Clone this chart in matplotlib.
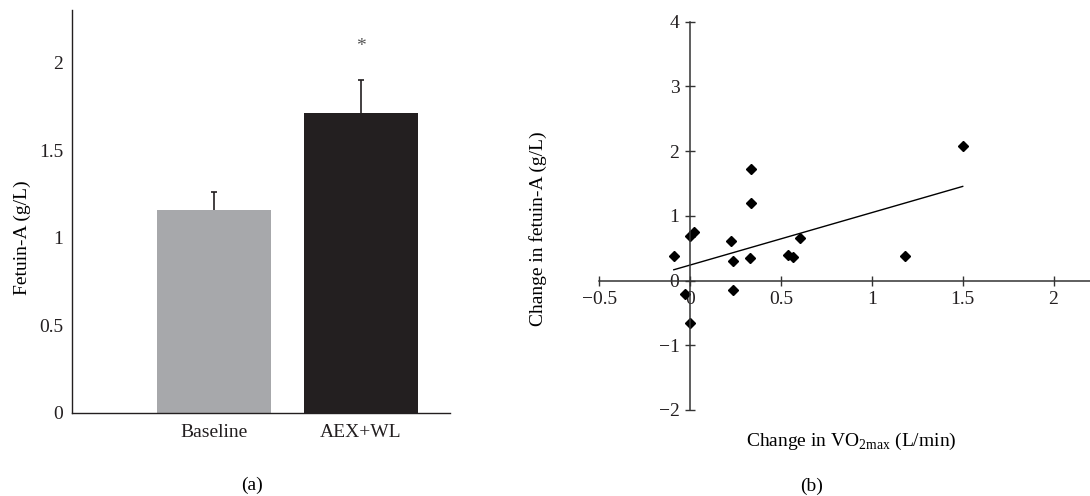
import numpy as np
import matplotlib.pyplot as plt

plt.rcParams["font.family"] = ["Liberation Serif", "DejaVu Serif"]
plt.rcParams["mathtext.fontset"] = "custom"
plt.rcParams["mathtext.rm"] = "Liberation Serif"
plt.rcParams["font.size"] = 14

# panel (a) data
groups = ["Baseline", "AEX+WL"]
fetuin_mean = [1.16, 1.71]
fetuin_err = [0.10, 0.19]
bar_colors = ["#a7a8ab", "#231f20"]

# panel (b) data
d_vo2 = [-0.09, 0.0, 0.02, -0.03, 0.0, 0.226, 0.235, 0.238, 0.334, 0.334,
         0.327, 0.536, 0.565, 0.605, 1.183, 1.50]
d_fetuin = [0.375, 0.684, 0.746, -0.20, -0.653, 0.617, 0.30, -0.149, 1.718,
            1.204, 0.344, 0.401, 0.360, 0.663, 0.38, 2.08]
fit_x = [-0.09, 1.50]
fit_slope = 0.81
fit_intercept = 0.24

line_col = "#333333"

fig = plt.figure(figsize=(10.9, 4.96), dpi=100)

# ---- (a) bar chart ----
ax1 = fig.add_axes([72 / 1090, (496 - 412.7) / 496, 378 / 1090, 402.5 / 496])
pos = np.arange(1, len(groups) + 1)
ax1.bar(pos, fetuin_mean, width=0.776, color=bar_colors)
for p, m, e in zip(pos, fetuin_mean, fetuin_err):
    _, caps, _ = ax1.errorbar(p, m, yerr=[[0], [e]], fmt="none",
                              ecolor="#231f20", elinewidth=1.2,
                              capsize=2.5, capthick=1.2)
    # only keep the upper cap
    for c in caps:
        if np.allclose(c.get_ydata(), m):
            c.set_visible(False)
ax1.text(2, 2.09, "*", ha="center", va="center", fontsize=14, color="#555555")
ax1.set_xlim(0.034, 2.605)
ax1.set_ylim(0, 2.3)
ax1.set_yticks([0, 0.5, 1, 1.5, 2])
ax1.set_yticklabels(["0", "0.5", "1", "1.5", "2"])
ax1.set_xticks(pos)
ax1.set_xticklabels(groups)
ax1.tick_params(axis="both", length=0, colors="#231f20")
ax1.tick_params(axis="y", pad=6.5)
ax1.tick_params(axis="x", pad=8)
for s in ["top", "right"]:
    ax1.spines[s].set_visible(False)
for s in ["left", "bottom"]:
    ax1.spines[s].set_color("#231f20")
    ax1.spines[s].set_linewidth(1.0)
ax1.set_ylabel("Fetuin-A (g/L)")
ax1.yaxis.set_label_coords(-0.132, 0.434)
ax1.yaxis.label.set_va("center")

# ---- (b) scatter ----
ax2 = fig.add_axes([599.3 / 1090, (496 - 410) / 496, 490.6 / 1090, 388.3 / 496])
ax2.plot(d_vo2, d_fetuin, "D", color="black", ms=5.5, mec="black")
fx = np.array(fit_x)
ax2.plot(fx, fit_slope * fx + fit_intercept, color="black", lw=1.0)
ax2.set_xlim(-0.5, 2.2)
ax2.set_ylim(-2, 4)
ax2.set_xticks([-0.5, 0, 0.5, 1, 1.5, 2])
ax2.set_xticklabels(["\u22120.5", "0", "0.5", "1", "1.5", "2"])
ax2.set_yticks([-2, -1, 0, 1, 2, 3, 4])
ax2.set_yticklabels(["\u22122", "\u22121", "0", "1", "2", "3", "4"])
ax2.spines["left"].set_position(("data", 0))
ax2.spines["bottom"].set_position(("data", 0))
for s in ["top", "right"]:
    ax2.spines[s].set_visible(False)
for s in ["left", "bottom"]:
    ax2.spines[s].set_color(line_col)
    ax2.spines[s].set_linewidth(1.1)
ax2.tick_params(axis="both", direction="inout", length=6.5, width=1.0,
                color=line_col, labelcolor="#231f20", pad=4.5)
ax2.set_ylabel("Change in fetuin-A (g/L)")
ax2.yaxis.set_label_coords(-0.125, 0.466)
ax2.yaxis.label.set_va("center")
ax2.set_xlabel("Change in VO$_{\\mathregular{2max}}$ (L/min)")
ax2.xaxis.set_label_coords(0.513, -0.082)
ax2.xaxis.label.set_va("center")

fig.text(252 / 1090, 1 - 485 / 496, "(a)", ha="center", va="center", fontsize=14)
fig.text(812 / 1090, 1 - 486 / 496, "(b)", ha="center", va="center", fontsize=14)

fig.savefig("out.png", dpi=100)
